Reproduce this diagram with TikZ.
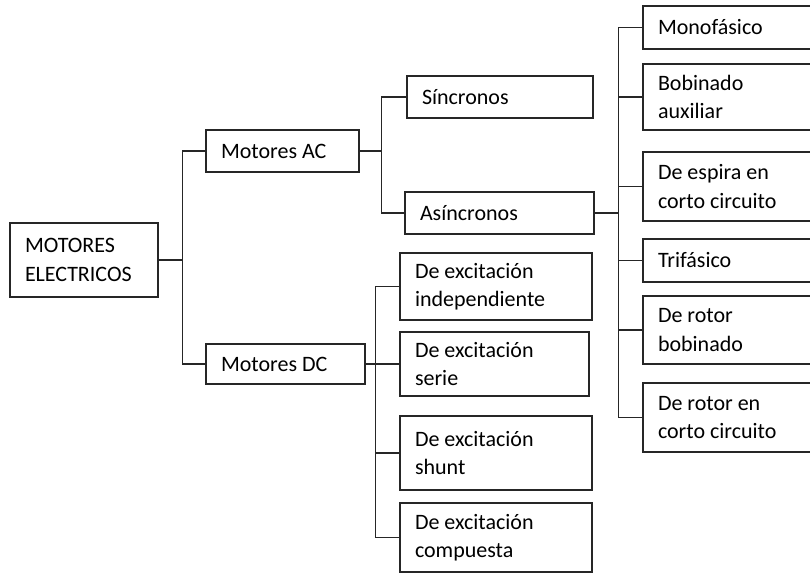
\documentclass[tikz,border=0pt]{standalone}
\usepackage{fontspec}
\setmainfont{Carlito}
\usepackage{tikz}
\usetikzlibrary{positioning,calc}
\definecolor{boxline}{HTML}{262626}

\begin{document}
\begin{tikzpicture}[x=1pt,y=-1pt,
  box/.style={draw=boxline,line width=1.3pt,inner xsep=15pt,inner ysep=0pt,
              align=flush left,font=\fontsize{22}{28.5}\selectfont},
  link/.style={draw=boxline,line width=1.3pt}
]
\useasboundingbox (0,0) rectangle (810,574);
\node[box,text width=118pt,minimum height=74pt] (motores) at (84,260) {MOTORES\\ELECTRICOS};
\node[box,text width=123pt,minimum height=42pt] (ac) at (282.5,151) {Motores AC};
\node[box,text width=129pt,minimum height=40pt] (dc) at (285.5,364) {Motores DC};
\node[box,text width=156pt,minimum height=42pt] (sin) at (500,97) {Síncronos};
\node[box,text width=159pt,minimum height=42pt] (asin) at (499.5,213) {Asíncronos};
\node[box,text width=162pt,minimum height=67pt] (indep) at (496,286.5) {De excitación\\independiente};
\node[box,text width=159pt,minimum height=64pt] (serie) at (494.5,364) {De excitación\\serie};
\node[box,text width=162pt,minimum height=74pt] (shunt) at (496,453) {De excitación\\shunt};
\node[box,text width=162pt,minimum height=69pt] (comp) at (496,537.5) {De excitación\\compuesta};
\node[box,text width=150pt,minimum height=43pt] (mono) at (733,27.5) {Monofásico};
\node[box,text width=150pt,minimum height=66pt] (bob) at (733,97) {Bobinado\\auxiliar};
\node[box,text width=150pt,minimum height=69pt] (esp) at (733,186.5) {De espira en\\corto circuito};
\node[box,text width=150pt,minimum height=43pt] (tri) at (733,260.5) {Trifásico};
\node[box,text width=150pt,minimum height=68pt] (rotb) at (733,330) {De rotor\\bobinado};
\node[box,text width=150pt,minimum height=69pt] (rotc) at (733,417.5) {De rotor en\\corto circuito};
\coordinate (jmain) at ($(motores.east)+(24,0)$);
\coordinate (jac) at ($(ac.east)+(22,0)$);
\coordinate (jasin) at ($(asin.east)+(24,0)$);
\coordinate (jdc) at ($(dc.east)+(10,0)$);
\draw[link] (motores.east) -- (jmain);
\draw[link] (ac.west) -| (jmain) |- (dc.west);
\draw[link] (ac.east) -- (jac);
\draw[link] (sin.west) -| (jac) |- (asin.west);
\draw[link] (asin.east) -- (jasin);
\draw[link] (mono.west) -| (jasin) |- (rotc.west);
\foreach \n in {bob,esp,tri,rotb}
  \draw[link] (jasin |- \n.west) -- (\n.west);
\draw[link] (dc.east) -- (serie.west);
\draw[link] (indep.west) -| (jdc) |- (comp.west);
\draw[link] (jdc |- shunt.west) -- (shunt.west);
\end{tikzpicture}
\end{document}
